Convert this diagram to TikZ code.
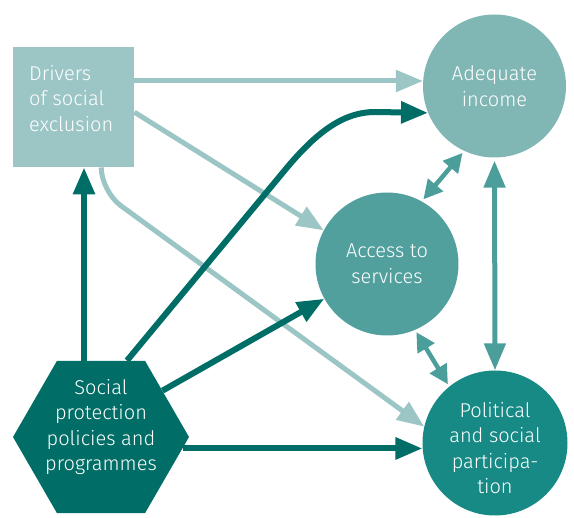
\documentclass[tikz,border=0pt]{standalone}
\usepackage{fontspec}
\setmainfont{Fira Sans}[UprightFont=* Light]
\usetikzlibrary{shapes.geometric,arrows.meta}
\definecolor{cbox}{HTML}{9BC6C5}
\definecolor{cinc}{HTML}{80B7B4}
\definecolor{cacc}{HTML}{52A09D}
\definecolor{cpol}{HTML}{178A85}
\definecolor{chex}{HTML}{006E66}
\definecolor{cdbl}{HTML}{4B9E9A}
\begin{document}
\begin{tikzpicture}[x=1pt,y=-1pt,
  lbl/.style={text=white,font=\fontsize{20}{25.5}\selectfont,align=center,inner sep=0pt},
  bubble/.style={circle,inner sep=0pt,lbl},
  la/.style={draw=cbox,line width=5pt,-{Triangle[length=27pt,width=21pt]}},
  da/.style={draw=chex,line width=6pt,-{Triangle[length=27pt,width=21pt]}},
  ba/.style={draw=cdbl,line width=5pt,{Triangle[length=27pt,width=21pt]}-{Triangle[length=27pt,width=21pt]}},
  sba/.style={draw=cdbl,line width=4.5pt,{Triangle[length=19pt,width=19pt]}-{Triangle[length=19pt,width=19pt]}}]
\useasboundingbox (0,0) rectangle (574,518);

\node[fill=cbox,minimum width=121pt,minimum height=120pt,inner sep=0pt,anchor=north west] (drivers) at (13,47) {};
\node[lbl,align=left,anchor=north west] (driverstext) at (29,65) {Drivers\\of social\\exclusion};
\node[bubble,fill=cinc,minimum size=143pt] (income) at (494.5,86) {Adequate\\income};
\node[bubble,fill=cacc,minimum size=143pt] (access) at (387,264) {Access to\\services};
\node[circle,inner sep=0pt,fill=cpol,minimum size=145pt] (pol) at (495,443) {};
\node[lbl] (poltext) at (495,448) {Political\\and social\\participa-\\tion};
\node[regular polygon,regular polygon sides=6,minimum size=176pt,fill=chex,inner sep=0pt] (hex) at (101,437) {};
\node[lbl] (hextext) at (101,427) {Social\\protection\\policies and\\programmes};

% light arrows
\draw[la] (drivers.east |- income.176) -- (income.176);
\draw[la] ([yshift=-5pt]drivers.east) -- (access.152);
\draw[la,rounded corners=24pt] ([xshift=27.5pt]drivers.south) -- ([xshift=27.5pt,yshift=-24pt]drivers.south) -- (pol.167);

% dark arrows
\draw[da] ([xshift=-17pt]hex.north) -- ([xshift=-17pt]hex.north |- drivers.south);
\draw[da] ([xshift=26pt]hex.north) -- (285,170) .. controls (318,130) and (345,112) .. (375,112) -- (income.202);
\draw[da] (hex.37) -- (access.209);
\draw[da] (hex.-8) -- (hex.-8 -| pol.184);

% double arrows
\draw[ba,shorten <=3pt] (income.south) -- (pol.north);
\draw[sba,shorten <=2.5pt,shorten >=2.5pt] (income.245) -- (access.61);
\draw[sba,shorten <=2.5pt,shorten >=2.5pt] (access.293) -- (pol.129);
\end{tikzpicture}
\end{document}
